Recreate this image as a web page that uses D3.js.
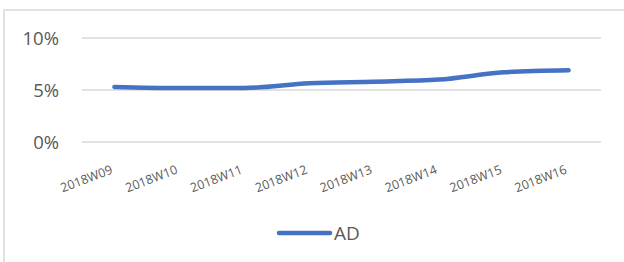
<!DOCTYPE html>
<html>
<head>
<meta charset="utf-8">
<script src="https://cdn.jsdelivr.net/npm/d3@7"></script>
<style>
  html, body { margin: 0; padding: 0; background: #fff; }
  svg { display: block; }
</style>
</head>
<body>
<svg id="chart" width="624" height="262"></svg>
<script>
const categories = ["2018W09", "2018W10", "2018W11", "2018W12", "2018W13", "2018W14", "2018W15", "2018W16"];
const seriesName = "AD";
const values = [0.053, 0.052, 0.052, 0.0565, 0.058, 0.060, 0.067, 0.069];
const yTicks = [0, 0.05, 0.10];

const svg = d3.select("#chart");
const W = 624, H = 262;
const m = { left: 82, right: 23 };

// chart area border
svg.append("rect")
  .attr("x", 4).attr("y", 10)
  .attr("width", W + 10).attr("height", H + 10)
  .attr("fill", "none").attr("stroke", "#d9d9d9").attr("stroke-width", 1.5);

const x = d3.scaleBand().domain(categories).range([m.left, W - m.right]);
const y = d3.scaleLinear().domain([0, 0.10]).range([142, 38]);

// gridlines
svg.append("g")
  .selectAll("line")
  .data(yTicks)
  .join("line")
  .attr("x1", m.left).attr("x2", W - m.right)
  .attr("y1", d => y(d)).attr("y2", d => y(d))
  .attr("stroke", "#d9d9d9").attr("stroke-width", 1.5);

// y axis labels
const yAxis = d3.axisLeft(y).tickValues(yTicks).tickFormat(d3.format(".0%")).tickSize(0).tickPadding(0);
const yg = svg.append("g").attr("transform", "translate(59,0)").call(yAxis);
yg.select(".domain").remove();
yg.selectAll("text")
  .attr("font-family", "'Open Sans', sans-serif")
  .attr("font-size", 18.5)
  .attr("fill", "#595959")
  .attr("dy", "0.36em");

// x axis labels
const xAxis = d3.axisBottom(x).tickSize(0).tickPadding(0);
const xg = svg.append("g").attr("transform", "translate(0,142)").call(xAxis);
xg.select(".domain").remove();
xg.selectAll("text")
  .attr("font-family", "'Open Sans', sans-serif")
  .attr("font-size", 12.5)
  .attr("fill", "#595959")
  .attr("text-anchor", "end")
  .attr("y", 0).attr("dy", 0)
  .attr("transform", "translate(-1, 31) rotate(-21)");

// line
const line = d3.line()
  .x((d, i) => x(categories[i]) + x.bandwidth() / 2)
  .y(d => y(d))
  .curve(d3.curveMonotoneX);

svg.append("path")
  .datum(values)
  .attr("d", line)
  .attr("fill", "none")
  .attr("stroke", "#4472C4")
  .attr("stroke-width", 4.5)
  .attr("stroke-linecap", "round")
  .attr("stroke-linejoin", "round");

// legend
const lg = svg.append("g");
lg.append("line")
  .attr("x1", 279).attr("x2", 330)
  .attr("y1", 233).attr("y2", 233)
  .attr("stroke", "#4472C4").attr("stroke-width", 4.5)
  .attr("stroke-linecap", "round");
lg.append("text")
  .attr("x", 334).attr("y", 239.5)
  .attr("font-family", "'Open Sans', sans-serif")
  .attr("font-size", 19)
  .attr("fill", "#595959")
  .text(seriesName);
</script>
</body>
</html>
